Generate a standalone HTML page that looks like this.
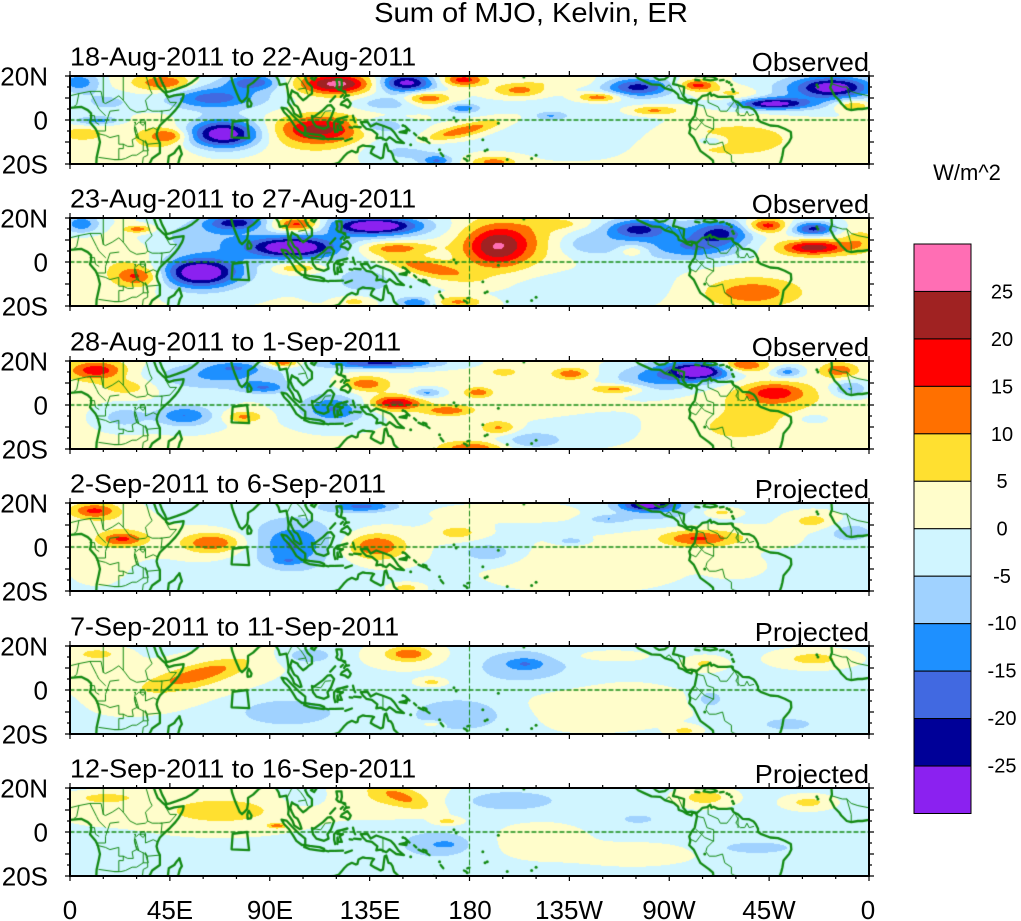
<!DOCTYPE html>
<html><head><meta charset="utf-8">
<style>
html,body{margin:0;padding:0;background:#fff;}
#wrap{position:relative;width:1021px;height:921px;overflow:hidden;background:#fff;}
canvas,svg{position:absolute;left:0;top:0;}
text{font-family:"Liberation Sans",Arial,sans-serif;fill:#000;}
</style></head>
<body>
<div id="wrap">
<canvas id="c" width="1021" height="921"></canvas>
<svg id="s" width="1021" height="921" xmlns="http://www.w3.org/2000/svg">
<text x="531" y="22" font-size="28" text-anchor="middle" transform="translate(531,0) scale(1.04,1) translate(-531,0)">Sum of MJO, Kelvin, ER</text>

<g transform="translate(70,65.5) scale(1.04,1)"><text x="0" y="0" font-size="26">18-Aug-2011 to 22-Aug-2011</text></g>
<g transform="translate(869,71) scale(1.04,1)"><text x="0" y="0" font-size="26" text-anchor="end">Observed</text></g>
<g transform="translate(70,207.5) scale(1.04,1)"><text x="0" y="0" font-size="26">23-Aug-2011 to 27-Aug-2011</text></g>
<g transform="translate(869,213) scale(1.04,1)"><text x="0" y="0" font-size="26" text-anchor="end">Observed</text></g>
<g transform="translate(70,350.5) scale(1.04,1)"><text x="0" y="0" font-size="26">28-Aug-2011 to 1-Sep-2011</text></g>
<g transform="translate(869,356) scale(1.04,1)"><text x="0" y="0" font-size="26" text-anchor="end">Observed</text></g>
<g transform="translate(70,492.5) scale(1.04,1)"><text x="0" y="0" font-size="26">2-Sep-2011 to 6-Sep-2011</text></g>
<g transform="translate(869,498) scale(1.04,1)"><text x="0" y="0" font-size="26" text-anchor="end">Projected</text></g>
<g transform="translate(70,635.5) scale(1.04,1)"><text x="0" y="0" font-size="26">7-Sep-2011 to 11-Sep-2011</text></g>
<g transform="translate(869,641) scale(1.04,1)"><text x="0" y="0" font-size="26" text-anchor="end">Projected</text></g>
<g transform="translate(70,777.5) scale(1.04,1)"><text x="0" y="0" font-size="26">12-Sep-2011 to 16-Sep-2011</text></g>
<g transform="translate(869,783) scale(1.04,1)"><text x="0" y="0" font-size="26" text-anchor="end">Projected</text></g>

<g id="lat" font-size="26" text-anchor="end"></g>
<g id="frames"></g>

<g font-size="26" text-anchor="middle">
<text x="70" y="919">0</text>
<text x="170" y="919">45E</text>
<text x="270" y="919">90E</text>
<text x="370" y="919">135E</text>
<text x="470" y="919">180</text>
<text x="569" y="919">135W</text>
<text x="669" y="919">90W</text>
<text x="769" y="919">45W</text>
<text x="868" y="919">0</text>
</g>

<text x="967" y="180" font-size="22" text-anchor="middle">W/m^2</text>
<g id="cbar"></g>
<g font-size="20" text-anchor="middle">
<text x="1002" y="298.5">25</text>
<text x="1002" y="346">20</text>
<text x="1002" y="393.5">15</text>
<text x="1002" y="441">10</text>
<text x="1002" y="488">5</text>
<text x="1002" y="535.5">0</text>
<text x="1002" y="583">-5</text>
<text x="1002" y="630">-10</text>
<text x="1002" y="677.5">-15</text>
<text x="1002" y="725">-20</text>
<text x="1002" y="772.5">-25</text>
</g>
</svg>
</div>
<script>
(function(){
var X0=70,W=799,H=88;
var TOPS=[76,218,361,503,646,788];
var COLS=['#8B21F0','#000098','#4169E1','#1E90FF','#A0D2FF','#D0F5FF','#FFFDCB','#FFE030','#FF7000','#FF0000','#A02222','#FF6EB4'];
function hex(c){return [parseInt(c.substr(1,2),16),parseInt(c.substr(3,2),16),parseInt(c.substr(5,2),16)];}
var RGB=COLS.map(hex);
var PANELS=[
{base:1,b:[
[25,30,30,22,-14],[195,32,35,16,13],[170,40,60,30,5],[280,80,60,22,-13],[365,30,35,16,-16],[310,60,110,40,-7],
[530,35,50,20,21],[520,40,70,30,8],[660,32,35,18,-22],[640,40,70,35,-8],[770,24,30,14,18],[700,78,32,14,16],
[770,108,22,10,-13],[620,95,40,14,-8],[880,55,35,14,12],[1035,75,30,10,15],[1110,45,45,20,-22],[1225,40,25,12,17],
[1140,115,35,10,12],[1370,95,50,12,-26],[1490,45,50,22,-24],[1450,60,90,40,-8],[1525,100,25,12,12],[60,145,32,9,-13],
[80,90,45,25,-7],[305,185,50,30,-32],[490,170,55,28,17],[500,190,90,45,5],[200,190,25,14,12],[180,200,60,40,5],
[770,175,60,14,14,-13],[610,160,30,14,-13],[650,230,60,35,-8],[720,265,20,12,-14],[830,268,30,12,12],[940,130,20,8,-8],
[1000,150,170,70,-4],[1290,200,100,45,7],[1250,205,20,10,-10],[30,185,30,15,7],[1300,65,35,15,7],[960,30,60,12,4]]},
{base:0.5,b:[
[30,30,25,20,-14],[140,45,20,8,13],[330,25,40,16,-20],[270,60,70,35,-7],[450,32,35,16,20],[440,100,60,22,-28],
[430,95,110,45,-5],[600,35,60,18,-28],[600,45,100,35,-5],[260,175,50,30,-29],[260,170,90,55,-5],[140,185,30,20,14],
[140,180,60,45,4],[835,100,45,45,19],[880,75,80,55,8],[640,100,50,14,13],[700,160,70,20,13,12],[760,262,35,12,11],
[680,265,25,12,-15],[450,160,35,12,11],[580,200,60,40,-7],[1110,45,40,20,-18],[1270,55,40,25,-18],[1220,100,60,25,-11],
[1150,70,120,50,-6],[1360,35,28,15,18],[1450,45,30,15,-22],[1450,100,40,14,17],[1450,100,70,25,6],[1330,235,55,25,9],
[1330,230,90,45,5],[1100,110,20,12,8],[1000,220,160,40,-3],[560,260,25,12,8],[80,120,60,40,3],[1010,90,45,25,-8],
[1540,80,25,25,7],[960,30,40,12,5]]},
{base:1,b:[
[60,40,35,18,13],[60,40,60,30,5],[120,90,35,18,7],[300,55,100,32,-12],[385,92,30,12,-12],[330,30,35,12,-8],
[420,18,25,9,16],[610,18,80,12,-22],[580,80,32,16,13],[640,138,32,14,18],[620,130,60,25,4],[520,155,40,28,-12],
[520,150,70,45,-5],[230,175,35,20,-12],[230,175,60,35,-4],[345,178,25,12,11],[700,107,22,10,-13],[740,160,30,10,12],
[800,105,18,10,12],[840,212,25,15,11],[790,272,45,16,14],[850,45,18,9,8],[980,50,25,12,13],[1070,95,35,10,13],
[1140,65,60,30,-10],[1230,42,40,18,-26],[1210,40,70,35,-7],[1310,25,35,14,17],[1375,105,40,20,12],[1370,120,80,35,6],
[1400,45,20,12,-13],[1500,40,25,16,13],[1520,95,25,18,-12],[1300,210,100,45,5],[1450,185,18,9,-8],[1000,200,130,50,-3],
[900,250,50,20,-8],[880,150,120,30,3],[110,180,35,25,-8]]},
{base:-1,b:[
[55,35,30,15,13],[55,35,55,30,4],[110,120,30,14,12],[110,110,55,40,5],[285,130,38,20,12],[285,135,60,35,5],
[440,140,40,38,-9],[430,185,20,8,-6],[440,130,90,70,-6],[575,22,45,12,-15],[600,140,38,26,12],[600,145,60,40,5],
[1130,18,35,12,-22],[1140,30,70,30,-7],[1225,118,45,16,12],[1260,115,100,25,5],[1450,65,35,18,8],[1270,40,25,10,8],
[980,125,18,7,-9],[1050,60,25,8,-8],[760,100,35,18,8],[820,160,40,22,-8],[1000,200,130,50,4],[660,265,20,9,9],
[1300,200,35,22,4],[1520,100,35,22,-7],[60,200,40,40,3],[880,40,120,20,3]]},
{base:-1,b:[
[260,95,60,18,9,-14],[250,110,110,45,6,-14],[60,35,35,14,7],[665,35,28,14,10],[665,40,55,28,5],[890,65,25,12,-8],
[890,75,80,45,-7],[710,120,20,9,8],[430,210,70,30,-8],[770,215,80,40,-8],[1000,190,140,50,4],[1450,50,50,18,8],
[1240,65,25,14,7],[1250,170,18,18,-8],[1400,245,35,13,-8],[1200,265,18,9,8],[710,245,14,6,8],[470,40,35,18,-8],
[1040,42,55,12,4],[70,100,60,40,3]]},
{base:-1,b:[
[650,38,45,18,7,20],[630,40,80,35,6],[300,80,110,40,8],[410,125,12,5,13],[860,50,70,22,-8],[720,180,50,28,-9],
[740,180,10,5,-5],[1110,105,22,9,-8],[1240,40,35,18,9],[1440,55,30,14,8],[1340,190,50,13,-8],[1100,210,75,22,4],
[920,170,60,35,4],[60,70,55,30,4],[740,112,18,8,8],[80,40,35,9,7],[460,40,30,20,-5]]}
];
var cv=document.getElementById('c'),ctx=cv.getContext('2d');
function field(p){
  var bl=p.b.map(function(a){
    var r=(a[5]||0)*Math.PI/180;
    var sx=a[2]*0.5155,sy=a[3]/2.98;
    return {cx:(a[0]-8)*0.5155,cy:(a[1]-12)/2.98,isx:1/(sx*sx),isy:1/(sy*sy),A:a[4],c:Math.cos(r),s:Math.sin(r)};
  });
  var img=ctx.createImageData(W,H),d=img.data;
  for(var j=0;j<H;j++){var y=j+0.5;
    for(var i=0;i<W;i++){var x=i+0.5,v=p.base;
      for(var k=0;k<bl.length;k++){var B=bl[k];var dx=x-B.cx,dy=y-B.cy;
        var u=dx*B.c+dy*B.s,w=-dx*B.s+dy*B.c;
        var e=0.5*(u*u*B.isx+w*w*B.isy); if(e<12) v+=B.A*Math.exp(-e);}
      var idx=Math.floor(v/5)+6; if(idx<0)idx=0; if(idx>11)idx=11;
      var c=RGB[idx],o=(j*W+i)*4; d[o]=c[0];d[o+1]=c[1];d[o+2]=c[2];d[o+3]=255;}
  }
  return img;
}
var COAST=[
[[0,5.5],[5,6],[8,4.5],[9.5,3],[9.5,1],[9,-1],[11.5,-4],[12.5,-6],[13.5,-10],[13,-12.5],[12,-17],[11.8,-21]],
[[37.5,21],[38.5,18],[39.5,15.5],[41.5,13.5],[43.3,12],[43.3,11.5],[44.5,10.4],[47,11.2],[51.2,11.8],[51,10.4],[50.5,9],[49,6.5],[47.5,4.5],[45,1.8],[42,-1],[40.5,-2.5],[39.5,-4.5],[39,-6.5],[39.5,-8.5],[40.5,-10.5],[40.5,-15],[37,-17.5],[35.3,-21]],
[[40,21],[41.5,17],[42.8,14.5],[43.5,12.7],[45,13],[48,14],[52,15.5],[55,17.2],[57,18.8],[58.5,20.5],[59.5,21.5]],
[[49.3,-12],[50.4,-15.5],[49.5,-17],[48.7,-20],[47.5,-24]],
[[44,-21],[44.5,-16.5],[47,-15],[48,-13.5],[49.3,-12]],
[[72.5,21],[73,18],[74,15],[75,12.5],[76.5,9],[77.5,8.1],[78.5,9],[79.8,10.5],[80.2,13],[80.2,15.5],[82.5,17],[85,19.5],[86.5,20.5],[87,21.5]],
[[79.9,8],[80,6],[81.5,6.2],[81.8,7.5],[80.5,9.7],[79.9,8]],
[[89,21.8],[92,22],[92.5,20.5],[94,18],[94.5,16],[97.5,16.5],[98,14],[98.5,10],[98.3,8],[100.3,5],[101,3],[103.5,1.3],[104.3,1.5],[103.5,4],[102.5,6],[101,7],[100,9],[99.2,11],[100,13.5],[101,12.7],[102.5,12],[103,11],[105,9],[106.5,10],[107.5,11],[109,12],[109,15],[107,17],[106,19],[106.5,20.7],[108,21.5]],
[[108.6,19],[110,18.2],[111,19.6],[110,20.2],[108.6,19]],
[[95.3,5.6],[97.5,5.2],[100,2.5],[103.5,-1],[106,-3],[106,-5.8],[104.5,-5.9],[102,-4],[100.5,-1.5],[98.5,1.5],[96.5,3.5],[95.3,5.6]],
[[105.5,-6.8],[106,-6],[108,-6.3],[110.5,-6.6],[112.5,-6.9],[114.5,-7.7],[114.4,-8.7],[111,-8.2],[108,-7.8],[105.5,-6.8]],
[[115,-8.5],[116.5,-8.8]],[[117,-8.6],[119,-8.6]],[[119.5,-8.6],[123,-8.5]],[[124,-9.5],[127,-8.4]],
[[109,1.8],[109.5,-1],[111,-3],[114.5,-4],[116.5,-3],[116,-1],[117.5,1],[119,5],[117.5,6.8],[116,6.5],[114,4.5],[112,3],[110,1.5],[109,1.8]],
[[119.5,-5.5],[119,-3.5],[119,-1],[120.5,0.5],[124.5,1.3],[125,1.6],[121,0.5],[120.5,-1],[121.5,-1],[123,-1],[121.5,-2],[122.5,-4.5],[121,-4.5],[120.5,-2.5],[120.5,-5.5]],
[[120,18.5],[120.5,16],[120,14.8],[121,13.8],[124,13],[124,12.3],[122,13.8],[122.5,16],[122.3,18.5],[120,18.5]],
[[122,7],[122.5,8],[125,9.5],[126.5,7.5],[126,6.3],[125.3,5.6],[124,6.5],[122,7]],
[[122,10.5],[123,11.5]],[[123.5,10],[124.5,11.5]],[[124.5,11],[125.7,11.2]],[[117.2,8.3],[119.5,10.8]],
[[127.5,2],[128,0],[128.5,-1]],[[128,-3],[131,-3.3]],[[126,-3.3],[127.2,-3.5]],
[[131,-1],[134,-0.8],[135.5,-3],[138,-1.6],[141,-2.6],[144.5,-4],[146,-5.5],[148,-8.5],[150.5,-10.5],[147,-10],[144,-7.8],[142.5,-9.2],[140,-8],[138,-8.3],[138.5,-6.5],[136,-4.5],[133.5,-4],[132,-2.5],[131,-1]],
[[148.5,-5.5],[151,-5],[152,-4.2],[151.5,-6],[148.5,-5.5]],[[150.8,-2.7],[153,-4.8]],
[[155,-6],[156,-7]],[[157,-8],[159.5,-9.2]],[[160.5,-9.5],[162,-10.5]],[[159,-8],[160.5,-8.5]],
[[167,-15],[168.2,-16.5]],[[177.5,-17.5],[178.5,-18]],[[179,-16.5],[180,-16.2]],[[164,-20],[165.5,-21]],
[[113.5,-22],[114.5,-21.8],[117,-20.7],[121,-19.5],[122.3,-18],[123.5,-16.5],[125,-15],[127,-14],[128.8,-14.8],[129.5,-14.5],[130,-12.5],[132,-11.5],[133,-11.8],[136,-12],[137,-12.3],[136,-13.5],[135.5,-15],[137.5,-16.2],[140,-17.5],[141,-17],[141.5,-13],[141.8,-11],[142.5,-10.7],[143.5,-14],[144.5,-14.3],[145.3,-15.5],[146,-18],[148,-20],[149.5,-22]],
[[254,20.5],[255,20],[256,19],[258.5,17.8],[262,16.2],[266,16],[268,14.5],[272,13.2],[274,11.5],[274.3,10],[276,9.5],[278,8.2],[280,7.5],[280.5,8.8],[282,8.5],[282.5,7],[281.5,2],[280,0],[279,-2],[279.5,-4],[279,-6],[281,-8],[283,-12],[284,-14],[288,-17],[289.7,-18.5],[290,-21]],
[[262.5,20.5],[264,19],[265.5,18.2],[268,18.6],[269.5,19.7],[269.7,21]],
[[273,21.5],[272.5,19],[271.7,16.3],[274,15.8],[276.7,15],[276.5,12],[276.3,11],[278,9],[280,9.3],[282.5,8.7],[284,10],[285,11],[287,11.3],[288.5,12.4],[289,11],[290,11.5],[292,10.5],[296,10.5],[298,10.7],[299,9],[301,8],[303,6],[306,5.8],[308,4.8],[309,3.5],[310,1.5],[310,0],[311.5,-1],[315.5,-2.5],[319,-2.8],[322,-4],[324.8,-5.5],[325,-8],[324,-10],[321.5,-13],[321,-16],[320.5,-18],[319.5,-21]],
[[275,21.8],[277.5,21.5],[280,21.7],[282,20],[285.5,20],[284,20.8]],[[281.7,18.3],[283.6,18]],
[[285.5,18.5],[286.5,20],[290,19.6],[291.5,18.5],[288.5,18],[285.5,18.5]],[[292.8,18],[294.5,18.2]],
[[343,21],[343.3,17],[342.5,14.7],[343.5,13],[344.5,11],[346.5,9],[347.5,7.5],[350,5],[352,4.5],[355,5],[357,5],[360,5.5]]
];
var BORD=[
[[0,11],[4,12],[9,13],[14,13],[15,8],[16,7.5],[19,9],[22,11],[24,9],[27,5],[30,3.5],[34,4],[35,5],[37,4],[40,4],[41.5,4],[41,-1]],
[[15,21],[15,8]],[[24,21],[24,9]],[[34,21],[36,14],[37,12],[34,9],[35,5]],[[43,11.5],[45,8],[48,8],[45,4.5],[41,4]],
[[12,-5],[16,-5],[16,-2],[18,4],[22,4.5]],[[9,2],[11,2],[11.5,-1],[13,-2]],
[[12,-6],[16,-7],[18,-8],[22,-7],[22,-11],[24,-11],[24,-13],[22,-13],[22,-18],[20,-18],[13,-17]],
[[29,-1],[30,-2],[31,-1],[34,-1],[34,-5],[37.5,-3.5],[39.5,-4.5]],
[[29.5,-1],[29,-4],[30,-8],[32,-9],[33,-9.5],[35,-11],[40.5,-10.5]],[[30,-8],[28,-9],[28.5,-12],[26,-12],[24,-11]],
[[33,-9.5],[33,-14],[30,-16],[28,-16],[25,-17.5],[23,-18],[20,-18]],[[33,-14],[35,-14],[35,-16],[33,-17],[32.5,-21]],
[[32,0],[33.5,0.3],[34,-1],[33,-2.5],[31.7,-1.5],[32,0]],[[29.2,-3.5],[29.5,-6],[30.5,-8],[31,-8.5],[30.3,-6],[29.5,-3.3]],
[[34,-9.5],[34.5,-12],[35.2,-14],[34.8,-11],[34,-9.5]],[[4,12],[3,7],[2,6.3]],[[9,13],[12,7],[13,5],[16,2]],
[[287.5,11.5],[287.5,8],[292,6],[293,4],[296,4],[299,8],[299.5,8.5]],
[[282.5,8],[283,7],[285.5,6.5],[287,2],[290,1],[290,-1],[290,-4.2],[286,-2.5],[284.5,-1],[282,1.2]],
[[280,-3.5],[282,-4.5],[285,-0.5]],[[290,-4],[287,-7],[286.5,-9],[288,-11],[291,-11],[294,-10],[295,-14],[298,-16],[298,-19],[302,-21]],
[[299.5,8.5],[301,6],[300,4],[302,2],[304,2],[305,4],[306,2],[308,2.5]],[[301,6.5],[301,2]],
[[343,16.5],[348,15],[350,15],[352,13],[355,12],[360,11]],[[350,15],[352,8],[352,4.5]],
[[98,16],[99,18],[100,20]],[[102,20],[104,18],[106,15],[107,12]],[[103,14],[106,14.5]],
[[109.5,1.5],[113,1],[115,4],[117.5,4.2]],[[141,-2.6],[141,-9.2]],[[268,14.5],[270,16],[272,13.2]],[[274,15.8],[276,11]]
];
var DOTS=[[187,-14],[188,-13.5],[204.5,19.5],[203,20.8],[193,-1.5],[186,-9],[173,1],[174,-0.5],[160.5,-9],[166.5,-13.5],[179,-18.5],[208,-17.5],[210,-16],[197,-18],[150,-2.5],[153.5,-11.2],[286,-10],[336.5,16],[337,15],[298.5,10.5],[298,16],[298.5,14],[299,13],[296,17.5],[297,17]];
function lx(lon){return X0+lon/360*W;}
function ly(top,lat){return top+(20-lat)/40*H;}
function poly(top,pts){ctx.beginPath();for(var i=0;i<pts.length;i++){var x=lx(pts[i][0]),y=ly(top,pts[i][1]);if(i)ctx.lineTo(x,y);else ctx.moveTo(x,y);}ctx.stroke();}
PANELS.forEach(function(p,n){
  var top=TOPS[n];
  ctx.putImageData(field(p),X0,top);
  ctx.save();ctx.beginPath();ctx.rect(X0,top,W,H);ctx.clip();
  ctx.lineJoin='round';ctx.lineCap='round';
  ctx.strokeStyle='#138a13';ctx.lineWidth=1.3;ctx.setLineDash([4,3]);
  ctx.beginPath();ctx.moveTo(X0,top+44);ctx.lineTo(X0+W,top+44);ctx.stroke();
  ctx.lineWidth=1;ctx.setLineDash([5,3]);
  ctx.beginPath();ctx.moveTo(lx(180),top);ctx.lineTo(lx(180),top+H);ctx.stroke();
  ctx.setLineDash([]);
  ctx.strokeStyle='#138a13';ctx.lineWidth=1;
  BORD.forEach(function(b){poly(top,b);});
  ctx.lineWidth=2.3;
  COAST.forEach(function(c){poly(top,c);});
  poly(top,[[73.3,-0.8],[79.8,0],[80.7,-8.2],[72.8,-7.9],[73.3,-0.8]]);
  ctx.fillStyle='#138a13';
  DOTS.forEach(function(d){ctx.beginPath();ctx.arc(lx(d[0]),ly(top,d[1]),1.5,0,7);ctx.fill();});
  ctx.restore();
});
var NS='http://www.w3.org/2000/svg';
function el(parent,tag,attrs,txt){var e=document.createElementNS(NS,tag);for(var k in attrs)e.setAttribute(k,attrs[k]);if(txt!=null)e.textContent=txt;parent.appendChild(e);return e;}
var fr=document.getElementById('frames'),lat=document.getElementById('lat');
TOPS.forEach(function(top){
  el(fr,'rect',{x:X0,y:top,width:W,height:H,fill:'none',stroke:'#000','stroke-width':2});
  var d='';
  for(var k=0;k<=24;k++){var x=X0+k*W/24;var L=(k%3==0)?5:3;
    d+='M'+x+' '+(top+H)+'v'+L+'M'+x+' '+top+'v'+(-L);}
  for(var k=0;k<=8;k++){var y=top+k*H/8;var L=(k%2==0)?5:3;
    d+='M'+X0+' '+y+'h'+(-L)+'M'+(X0+W)+' '+y+'h'+L;}
  el(fr,'path',{d:d,stroke:'#000','stroke-width':1.2,fill:'none'});
  el(lat,'text',{x:48,y:top+9.5},'20N');
  el(lat,'text',{x:48,y:top+44+9.5},'0');
  el(lat,'text',{x:48,y:top+H+9.5},'20S');
});
var cb=document.getElementById('cbar');
var BH=569.5/12;
for(var i=0;i<12;i++){
  el(cb,'rect',{x:914,y:244+i*BH,width:57,height:BH,fill:COLS[11-i],stroke:'#000','stroke-width':1});
}
})();
</script>
</body></html>
